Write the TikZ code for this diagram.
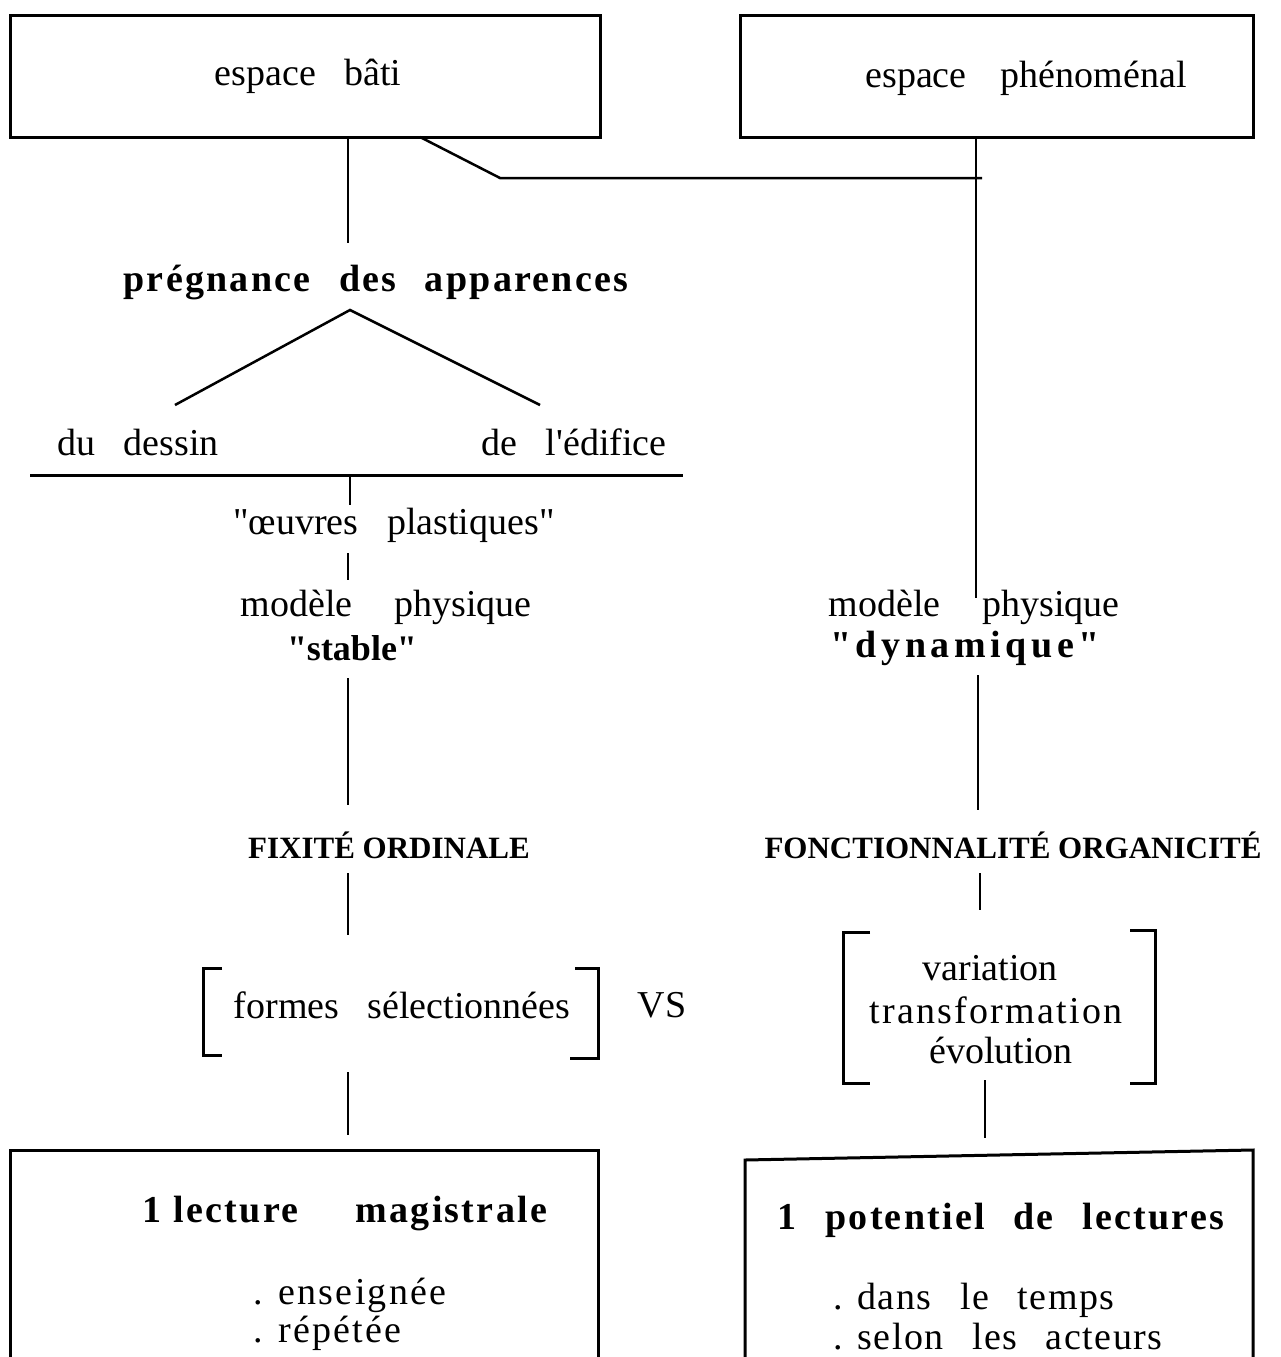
\documentclass[tikz,border=0pt]{standalone}
\usepackage{fontspec}
\setmainfont{Liberation Serif}
\newfontfamily\spaced[LetterSpace=6]{Liberation Serif}
\newfontfamily\spacedS[LetterSpace=0]{Liberation Serif}
\newfontfamily\spacedD[LetterSpace=12]{Liberation Serif}
\newfontfamily\spacedR[LetterSpace=6]{Liberation Serif}
\newfontfamily\spacedT[LetterSpace=4]{Liberation Serif}
\newcommand\wsp{\hspace{0.75em}}
\newcommand\qd{\textquotedbl}
\tikzset{
  lbl/.style={inner sep=0pt, font=\fontsize{38}{40}\selectfont},
  blbl/.style={inner sep=0pt, font=\fontsize{38}{40}\selectfont\spaced\bfseries},
  caps/.style={inner sep=0pt, font=\fontsize{31}{33}\selectfont\bfseries},
  ln/.style={line width=2.5pt},
  bx/.style={draw, line width=3pt, inner sep=0pt}
}
\begin{document}
\begin{tikzpicture}[x=1pt,y=-1pt]
\useasboundingbox (0,0) rectangle (1280,1357);
% top boxes
\node[bx, minimum width=590pt, minimum height=122pt] (b1) at (305,76) {};
\node[bx, minimum width=513pt, minimum height=122pt] (b2) at (996.5,76) {};
\node[lbl] (t1) at (308,76) {espace\wsp bâti};
\node[lbl] (t2) at (1026,78) {espace\wsp\hspace{0.15em}phénoménal};
% left column texts
\node[blbl] (preg) at (376,282) {prégnance\wsp des\wsp apparences};
\node[lbl] (dessin) at (138,442) {du\wsp dessin};
\node[lbl] (edif) at (574,442) {de\wsp l\textquotesingle édifice};
\node[lbl] (oeuv) at (394,525) {\qd œuvres\wsp plastiques\qd};
\node[lbl] (modL) at (386,607) {modèle\hspace{1.1em}physique};
\node[inner sep=0pt, font=\fontsize{36}{40}\selectfont\spacedS\bfseries] (stab) at (352,648) {"stable"};
\node[caps] (fix) at (389,845) {FIXITÉ ORDINALE};
\node[lbl] (formes) at (402,1005) {formes\wsp sélectionnées};
\node[lbl] (vs) at (662,1005) {VS};
% right column texts
\node[lbl] (modR) at (974,607) {modèle\hspace{1.1em}physique};
\node[inner sep=0pt, font=\fontsize{38}{40}\selectfont\spacedD\bfseries] (dyn) at (965,648) {"dynamique"};
\node[caps] (fonc) at (1013,845) {FONCTIONNALITÉ ORGANICITÉ};
\node[lbl] (var) at (990,968) {variation};
\node[lbl, font=\fontsize{38}{40}\selectfont\spacedR] (trans) at (996,1010) {transformation};
\node[lbl] (evol) at (1001,1050) {évolution};
% bottom boxes texts
\node[blbl] (lect) at (345,1213) {1 lecture\wsp\wsp magistrale};
\node[lbl, anchor=west, font=\fontsize{38}{40}\selectfont\spacedR] (ens) at (253,1295) {. enseignée};
\node[lbl, anchor=west, font=\fontsize{38}{40}\selectfont\spacedR] (rep) at (253,1333) {. répétée};
\node[blbl] (pot) at (1001,1220) {1\wsp potentiel\wsp de\wsp lectures};
\node[lbl, anchor=west, font=\fontsize{38}{40}\selectfont\spacedT] (dans) at (833,1300) {. dans\wsp le\wsp temps};
\node[lbl, anchor=west, font=\fontsize{38}{40}\selectfont\spacedT] (selon) at (833,1337) {. selon\wsp les\wsp acteurs};
% bottom boxes (cut at bottom)
\coordinate (lb1) at (10,1357); \coordinate (lb2) at (10,1150);
\coordinate (lb3) at (598,1150); \coordinate (lb4) at (598,1357);
\draw[line width=3pt] (lb1) -- (lb2) -- (lb3) -- (lb4);
\coordinate (rb1) at (745,1357); \coordinate (rb2) at (745,1160);
\coordinate (rb3) at (1253,1150); \coordinate (rb4) at (1253,1357);
\draw[line width=3pt] (rb1) -- (rb2) -- (rb3) -- (rb4);
% connectors left
\coordinate (a1) at (348,243);
\draw[ln] (b1.south -| a1) -- (a1);
\coordinate (k1) at (420,137); \coordinate (k2) at (500,178); \coordinate (k3) at (982,178);
\draw[ln] (k1) -- (k2) -- (k3);
\coordinate (apex) at (350,310); \coordinate (bl) at (175,405); \coordinate (br) at (540,405);
\draw[ln] (bl) -- (apex) -- (br);
\coordinate (hl) at (30,475); \coordinate (hr) at (683,475);
\draw[line width=3pt] (hl) -- (hr);
\coordinate (s1a) at (350,475); \coordinate (s1b) at (350,505);
\draw[ln] (s1a) -- (s1b);
\coordinate (s2a) at (348,553); \coordinate (s2b) at (348,580);
\draw[ln] (s2a) -- (s2b);
\coordinate (s3a) at (348,678); \coordinate (s3b) at (348,805);
\draw[ln] (s3a) -- (s3b);
\coordinate (s4a) at (348,873); \coordinate (s4b) at (348,935);
\draw[ln] (s4a) -- (s4b);
\coordinate (s5a) at (348,1072); \coordinate (s5b) at (348,1135);
\draw[ln] (s5a) -- (s5b);
% connectors right
\coordinate (r1) at (976,598);
\draw[ln] (b2.south -| r1) -- (r1);
\coordinate (r2a) at (978,675); \coordinate (r2b) at (978,810);
\draw[ln] (r2a) -- (r2b);
\coordinate (r3a) at (980,873); \coordinate (r3b) at (980,910);
\draw[ln] (r3a) -- (r3b);
\coordinate (r4a) at (985,1080); \coordinate (r4b) at (985,1138);
\draw[ln] (r4a) -- (r4b);
% brackets
\coordinate (L1) at (222,968); \coordinate (L2) at (203,968); \coordinate (L3) at (203,1055); \coordinate (L4) at (222,1055);
\draw[line width=3pt] (L1) -- (L2) -- (L3) -- (L4);
\coordinate (R1) at (575,968); \coordinate (R2) at (598,968); \coordinate (R3) at (598,1058); \coordinate (R4) at (570,1058);
\draw[line width=3pt] (R1) -- (R2) -- (R3) -- (R4);
\coordinate (M1) at (870,932); \coordinate (M2) at (843,932); \coordinate (M3) at (843,1083); \coordinate (M4) at (870,1083);
\draw[line width=3pt] (M1) -- (M2) -- (M3) -- (M4);
\coordinate (N1) at (1130,930); \coordinate (N2) at (1155,930); \coordinate (N3) at (1155,1083); \coordinate (N4) at (1130,1083);
\draw[line width=3pt] (N1) -- (N2) -- (N3) -- (N4);
\end{tikzpicture}
\end{document}
